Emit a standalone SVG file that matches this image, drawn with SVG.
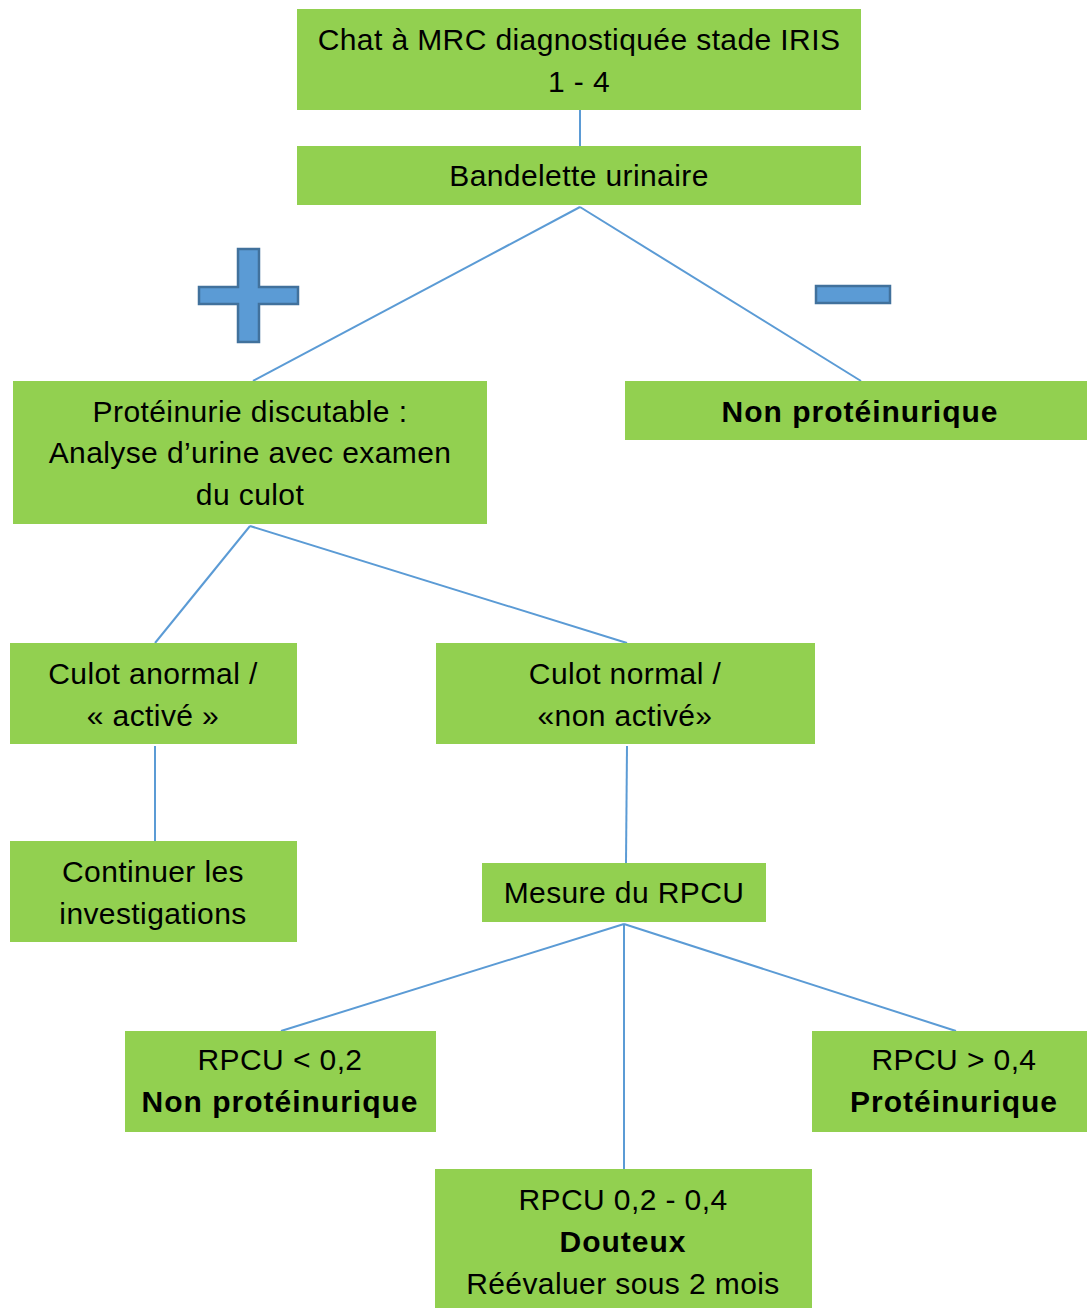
<svg xmlns="http://www.w3.org/2000/svg" width="1087" height="1308" viewBox="0 0 1087 1308">
<style>
.box{fill:#92D050}
.t{font-family:"Liberation Sans",Arial,sans-serif;font-size:30px;letter-spacing:0.4px;fill:#000;text-anchor:middle}
.b{font-weight:bold;letter-spacing:1px}
.c{stroke:#5B9BD5;stroke-width:2;fill:none}
.sign{fill:#5B9BD5;stroke:#41719C;stroke-width:2.5}
</style>
<rect width="1087" height="1308" fill="#fff"/>
<g id="connectors">
<line class="c" x1="580" y1="110" x2="580" y2="146"/>
<line class="c" x1="580" y1="207" x2="253" y2="381"/>
<line class="c" x1="580" y1="207" x2="861" y2="381"/>
<line class="c" x1="250" y1="526" x2="155" y2="643"/>
<line class="c" x1="250" y1="526" x2="627" y2="643"/>
<line class="c" x1="155" y1="746" x2="155" y2="841"/>
<line class="c" x1="627" y1="746" x2="626" y2="863"/>
<line class="c" x1="624" y1="924" x2="281" y2="1031"/>
<line class="c" x1="624" y1="924" x2="624" y2="1169"/>
<line class="c" x1="624" y1="924" x2="956" y2="1031"/>
</g>
<g id="plus">
<path class="sign" d="M238,249 H259 V287 H298 V304 H259 V342 H238 V304 H199 V287 H238 Z"/>
</g>
<g id="minus">
<rect class="sign" x="816" y="286" width="74" height="17"/>
</g>
<g id="n1">
<rect class="box" x="297" y="9" width="564" height="101"/>
<text class="t" x="579" y="50">Chat à MRC diagnostiquée stade IRIS</text>
<text class="t" x="579" y="92">1 - 4</text>
</g>
<g id="n2">
<rect class="box" x="297" y="146" width="564" height="59"/>
<text class="t" x="579" y="186">Bandelette urinaire</text>
</g>
<g id="n3">
<rect class="box" x="13" y="381" width="474" height="143"/>
<text class="t" x="250" y="422">Protéinurie discutable :</text>
<text class="t" x="250" y="463">Analyse d’urine avec examen</text>
<text class="t" x="250" y="505">du culot</text>
</g>
<g id="n4">
<rect class="box" x="625" y="381" width="462" height="59"/>
<text class="t b" x="860" y="422">Non protéinurique</text>
</g>
<g id="n5">
<rect class="box" x="10" y="643" width="287" height="101"/>
<text class="t" x="153" y="684">Culot anormal /</text>
<text class="t" x="153" y="726">« activé »</text>
</g>
<g id="n6">
<rect class="box" x="436" y="643" width="379" height="101"/>
<text class="t" x="625" y="684">Culot normal /</text>
<text class="t" x="625" y="726">«non activé»</text>
</g>
<g id="n7">
<rect class="box" x="10" y="841" width="287" height="101"/>
<text class="t" x="153" y="882">Continuer les</text>
<text class="t" x="153" y="924">investigations</text>
</g>
<g id="n8">
<rect class="box" x="482" y="863" width="284" height="59"/>
<text class="t" x="624" y="903">Mesure du RPCU</text>
</g>
<g id="n9">
<rect class="box" x="125" y="1031" width="311" height="101"/>
<text class="t" x="280" y="1070">RPCU &lt; 0,2</text>
<text class="t b" x="280" y="1112">Non protéinurique</text>
</g>
<g id="n10">
<rect class="box" x="812" y="1031" width="275" height="101"/>
<text class="t" x="954" y="1070">RPCU &gt; 0,4</text>
<text class="t b" x="954" y="1112">Protéinurique</text>
</g>
<g id="n11">
<rect class="box" x="435" y="1169" width="377" height="139"/>
<text class="t" x="623" y="1210">RPCU 0,2 - 0,4</text>
<text class="t b" x="623" y="1252">Douteux</text>
<text class="t" x="623" y="1294">Réévaluer sous 2 mois</text>
</g>
</svg>
